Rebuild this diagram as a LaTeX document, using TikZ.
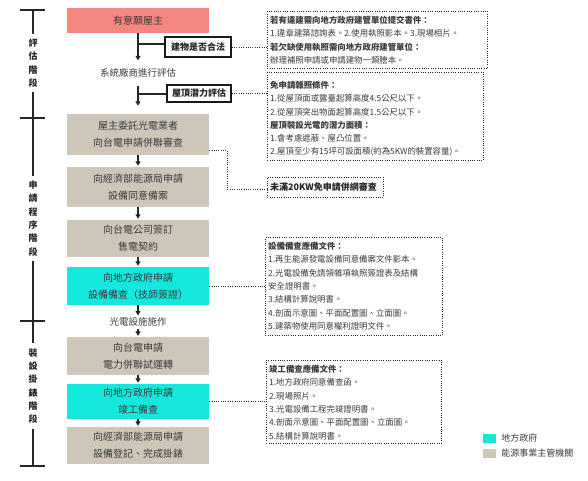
\documentclass[tikz,border=0pt]{standalone}
\usepackage{fontspec}
\setmainfont{Noto Sans CJK TC}
\usetikzlibrary{arrows.meta}
\definecolor{pinkc}{HTML}{F5877F}
\definecolor{beige}{HTML}{CEC6B9}
\definecolor{cyanc}{HTML}{14E8DC}
\definecolor{txt}{HTML}{3A3A3A}
\begin{document}
\begin{tikzpicture}[x=1pt,y=-1pt,
  mainbox/.style={fill=beige, minimum width=142pt, text=txt, font=\fontsize{10}{17}\selectfont, align=center, inner sep=0pt},
  plain/.style={text=txt, font=\fontsize{9.5}{12}\selectfont, inner xsep=0pt},
  arr/.style={-{Triangle[length=4.5pt,width=5pt]}, line width=1.2pt, black!85},
  branchbox/.style={draw=black!90, line width=1.4pt, fill=white, font=\bfseries\fontsize{9}{11}\selectfont, text=black!85, inner sep=0pt},
  notebox/.style={draw=black!85, dash pattern=on 1pt off 1.3pt, line width=0.9pt, inner sep=0pt, anchor=north west},
  notetext/.style={anchor=north west, align=left, inner sep=0pt, font=\fontsize{8.4}{13.3}\selectfont, text=txt},
  dotline/.style={draw=black!80, dash pattern=on 1pt off 1.3pt, line width=0.9pt},
  stage/.style={font=\bfseries\fontsize{9}{13.3}\selectfont, align=center, inner xsep=0pt, inner ysep=5pt, text=black!85},
  tl/.style={line width=1.2pt, black!85}
]
\useasboundingbox (0,0) rectangle (588,480);
% ---- timeline
\coordinate (t0) at (33,10);
\coordinate (t1) at (33,118);
\coordinate (t2) at (33,321);
\coordinate (t3) at (33,466);
\node[stage] (s1) at (33,63) {評\\估\\階\\段};
\node[stage] (s2) at (33,218.5) {申\\請\\程\\序\\階\\段};
\node[stage] (s3) at (33,386) {裝\\設\\掛\\錶\\階\\段};
\foreach \t in {t0,t1,t2,t3}{\draw[tl] ([xshift=-13pt]\t) -- ([xshift=12pt]\t);}
\draw[tl] (t0) -- (s1.north);
\draw[tl] (s1.south) -- (s2.north);
\draw[tl] (s2.south) -- (s3.north);
\draw[tl] (s3.south) -- (t3);
% ---- main flow
\node[mainbox, fill=pinkc, minimum height=25pt] (b1) at (138,20.5) {有意願屋主};
\node[plain, inner ysep=8pt] (sys) at (138,73) {系統廠商進行評估};
\node[mainbox, minimum height=41pt] (b2) at (138,134.5) {屋主委託光電業者\\向台電申請併聯審查};
\node[mainbox, minimum height=40pt] (b3) at (138,187) {向經濟部能源局申請\\設備同意備案};
\node[mainbox, minimum height=37pt] (b4) at (138,238.5) {向台電公司簽訂\\售電契約};
\node[mainbox, fill=cyanc, minimum height=38pt] (b5) at (138,286) {向地方政府申請\\設備備查（技師簽證）};
\node[plain, inner ysep=2pt] (pv) at (138,322) {光電設施施作};
\node[mainbox, minimum height=38pt] (b6) at (138,356) {向台電申請\\電力併聯試運轉};
\node[mainbox, fill=cyanc, minimum height=35pt] (b7) at (138,401.5) {向地方政府申請\\竣工備查};
\node[mainbox, minimum height=37pt] (b8) at (138,445.5) {向經濟部能源局申請\\設備登記、完成掛錶};
\draw[arr] (b1.south) -- (sys.north);
\draw[arr, shorten >=8pt] (sys.south) -- (b2.north);
\draw[arr, shorten >=1pt] (b2.south) -- (b3.north);
\draw[arr, shorten >=1pt] (b3.south) -- (b4.north);
\draw[arr, shorten >=1pt] (b4.south) -- (b5.north);
\draw[arr] (b5.south) -- (pv.north);
\draw[arr, shorten >=1pt] (pv.south) -- (b6.north);
\draw[arr, shorten >=1pt] (b6.south) -- (b7.north);
\draw[arr, shorten >=1pt] (b7.south) -- (b8.north);
% ---- branch boxes
\node[branchbox, minimum width=66pt, minimum height=20pt] (legal) at (198,47) {建物是否合法};
\node[branchbox, minimum width=64pt, minimum height=17pt] (roof) at (199,93.5) {屋頂潛力評估};
\coordinate (j1) at (138,44);
\coordinate (j2) at (138,94);
\draw[tl] (j1) -- (j1 -| legal.west);
\draw[tl] (j2) -- (j2 -| roof.west);
% ---- notes
\node[notebox, minimum width=220pt, minimum height=57pt] (n1) at (267,11) {};
\node[notetext] at ([xshift=3pt,yshift=-5pt]n1.north west) {\textbf{若有違建需向地方政府建管單位提交書件：}\\1.違章建築諮詢表。2.使用執照影本。3.現場相片。\\\textbf{若欠缺使用執照需向地方政府建管單位：}\\辦理補照申請或申請建物一類謄本。};
\node[notebox, minimum width=216pt, minimum height=88pt] (n2) at (267,72) {};
\node[notetext] at ([xshift=3pt,yshift=-9pt]n2.north west) {\textbf{免申請雜照條件：}\\1.從屋頂面或露臺起算高度4.5公尺以下。\\2.從屋頂突出物面起算高度1.5公尺以下。\\\textbf{屋頂裝設光電的潛力面積：}\\1.會考慮遮蔽、屋凸位置。\\2.屋頂至少有15坪可設面積(約為5KW的裝置容量)。};
\node[notebox, minimum width=116pt, minimum height=20pt] (n20) at (267,177) {};
\node[notetext, font=\bfseries\fontsize{9}{11}\selectfont, text=black!85, anchor=west] at ([xshift=3pt]n20.west) {未滿20KW免申請併網審查};
\node[notebox, minimum width=177pt, minimum height=98pt] (n3) at (265,237) {};
\node[notetext] at ([xshift=3pt,yshift=-5pt]n3.north west) {\textbf{設備備查應備文件：}\\1.再生能源發電設備同意備案文件影本。\\2.光電設備免請領雜項執照簽證表及結構\\安全證明書。\\3.結構計算說明書。\\4.剖面示意圖、平面配置圖、立面圖。\\5.建築物使用同意權利證明文件。};
\node[notebox, minimum width=175pt, minimum height=83pt] (n4) at (266,360) {};
\node[notetext] at ([xshift=3pt,yshift=-5pt]n4.north west) {\textbf{竣工備查應備文件：}\\1.地方政府同意備查函。\\2.現場照片。\\3.光電設備工程完竣證明書。\\4.剖面示意圖、平面配置圖、立面圖。\\5.結構計算說明書。};
% ---- dotted connectors
\draw[dotline] (legal.east) -- (legal.east -| n1.west);
\draw[dotline] (roof.east) -- (roof.east -| n2.west);
\draw[dotline] ([yshift=5pt]b2.south east) -- ++(18,0) |- ([yshift=-2pt]n20.west);
\draw[dotline] (b5.east) -- (b5.east -| n3.west);
\draw[dotline] (b7.east) -- (b7.east -| n4.west);
% ---- legend
\node[fill=cyanc, minimum width=13pt, minimum height=9pt, inner sep=0pt] (lg1) at (489.5,438.5) {};
\node[fill=beige, minimum width=13pt, minimum height=9pt, inner sep=0pt] (lg2) at (489.5,453.5) {};
\node[anchor=west, text=txt, font=\fontsize{9}{11}\selectfont, inner sep=0pt] (lt1) at ([xshift=5pt]lg1.east) {地方政府};
\node[anchor=west, text=txt, font=\fontsize{9}{11}\selectfont, inner sep=0pt] (lt2) at ([xshift=5pt]lg2.east) {能源事業主管機關};
\end{tikzpicture}
\end{document}
